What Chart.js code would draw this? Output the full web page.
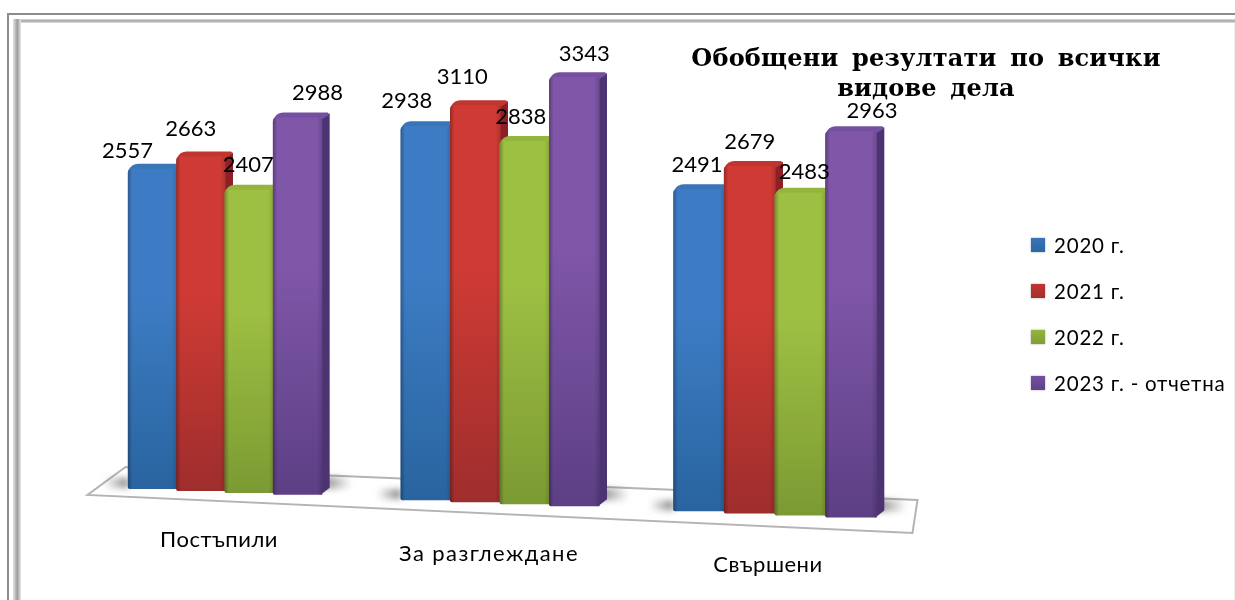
<!DOCTYPE html>
<html lang="bg">
<head>
    <meta charset="UTF-8">
    <title>Обобщени резултати по всички видове дела</title>
    <style>
        html, body { margin: 0; padding: 0; background: #fff; overflow: hidden; }
        #wrap { position: relative; width: 1235px; height: 600px; }
        canvas { position: absolute; left: 0; top: 0; }
        .frame { position: absolute; }
        #outerTop { left: 7px; top: 13px; right: 0; height: 2px; background: #8c8c8c; }
        #outerLeft { left: 7px; top: 13px; bottom: 0; width: 2px; background: #8c8c8c; }
        #innerTop { left: 14px; top: 19px; right: 0; height: 4px; background: linear-gradient(#ddd, #a4a4a4 50%, #e4e4e4); }
        #innerLeft { left: 13px; top: 19px; bottom: 0; width: 8px; background: linear-gradient(90deg, #e4e4e4, #9c9c9c 55%, #e8e8e8); }
        #innerRight { right: 0; top: 23px; bottom: 0; width: 1px; background: #eee; }
        #title {
            position: absolute; left: 626px; top: 43px; width: 600px; text-align: center;
            font: bold 24px/30px "DejaVu Serif", serif; word-spacing: 5px; letter-spacing: 0.2px; color: #000; white-space: nowrap;
        }
        #legend { position: absolute; left: 1031px; top: 222px; font: 20.5px/46px Lato, sans-serif; letter-spacing: 0.8px; color: #000; white-space: nowrap; }
        #legend div { display: flex; align-items: center; height: 46px; }
        #legend i { display: block; width: 14px; height: 14px; margin-right: 9px; box-shadow: 0 0 2px rgba(0,0,0,.35); }
    </style>
</head>
<body>
<div id="wrap">
    <canvas id="chart" width="1235" height="600"></canvas>
    <div class="frame" id="outerTop"></div>
    <div class="frame" id="outerLeft"></div>
    <div class="frame" id="innerTop"></div>
    <div class="frame" id="innerLeft"></div>
    <div class="frame" id="innerRight"></div>
    <div id="title">Обобщени резултати по всички<br>видове дела</div>
    <div id="legend"></div>
</div>

<script src="https://cdn.jsdelivr.net/npm/chart.js"></script>
<script>
    // Data
    const categories = ['Постъпили', 'За разглеждане', 'Свършени'];
    const seriesNames = ['2020 г.', '2021 г.', '2022 г.', '2023 г. - отчетна'];
    const values2020 = [2557, 2938, 2491];
    const values2021 = [2663, 3110, 2679];
    const values2022 = [2407, 2838, 2483];
    const values2023 = [2988, 3343, 2963];

    // Bar face colours: top of front, bottom of front, side, top face
    const faces = [
        ['#3f80ca', '#2a67a4', '#24507f', '#3a75b8'],
        ['#d63d36', '#a32f2e', '#8c2026', '#c03530'],
        ['#a2c544', '#7f9f35', '#6b8a2c', '#93b53e'],
        ['#8359ad', '#5f4189', '#4c3473', '#7550a0']
    ];

    // Nudges of the value labels from the bar top centre, per series then category
    const labelDx = [[-25, -19, -2], [-10, -13, 0], [-1, -4, 4], [20, 10, 21]];
    const labelDy = [[-18, -25, -24], [-28, -28, -24], [-25, -24, -21], [-25, -23, -20]];
    // Category labels, relative to the axis centre and the plot bottom
    const catDx = [-6, -11, -7];
    const catDy = [52, 66, 77];
    const catSpacing = ['0.5px', '1.4px', '0.5px'];

    // The picture is a tilted 3D view, so elements are projected before painting
    const tilt = { from: 130, slope: 0.041, gain: 6e-5, spread: 8.5e-5, mid: 500, depth: 8, rise: 5 };

    function project(bar, cx) {
        const f = 1 + (cx - tilt.mid) * tilt.spread;
        const x = cx + (bar.x - cx) * f;
        const w = bar.width * f;
        const bottom = bar.base + (x - tilt.from) * tilt.slope;
        const h = (bar.base - bar.y) * (1 + (x - tilt.from) * tilt.gain);
        return { x, left: x - w / 2, right: x + w / 2, bottom, top: bottom - h };
    }

    function blob(ctx, x0, x1, y, h) {
        const g = ctx.createLinearGradient(x0, 0, x1, 0);
        g.addColorStop(0, 'rgba(80,80,80,0.7)');
        g.addColorStop(1, 'rgba(80,80,80,0)');
        ctx.fillStyle = g;
        ctx.filter = 'blur(3px)';
        ctx.fillRect(Math.min(x0, x1), y, Math.abs(x1 - x0), h);
        ctx.filter = 'none';
    }

    const view3d = {
        id: 'view3d',
        beforeDatasetsDraw(chart) {
            const ctx = chart.ctx;
            const area = chart.chartArea;
            const xs = chart.scales.x;
            const last = chart.data.datasets.length - 1;
            ctx.save();

            // floor
            ctx.strokeStyle = '#b4b4b4';
            ctx.lineWidth = 2;
            ctx.beginPath();
            ctx.moveTo(area.left + 38, area.bottom - 21);
            ctx.lineTo(area.left, area.bottom + 7);
            ctx.lineTo(area.right, area.bottom + 45);
            ctx.lineTo(area.right + 5, area.bottom + 12);
            ctx.closePath();
            ctx.stroke();

            // soft shadows beside every group
            categories.forEach((c, i) => {
                const cx = xs.getPixelForValue(i);
                const a = project(chart.getDatasetMeta(0).data[i], cx);
                const b = project(chart.getDatasetMeta(last).data[i], cx);
                blob(ctx, a.left, a.left - 24, a.bottom - 11, 10);
                blob(ctx, b.right, b.right + 30, b.bottom - 18, 12);
            });

            // bars, left to right so each one covers the side of its neighbour
            categories.forEach((c, i) => {
                const cx = xs.getPixelForValue(i);
                chart.data.datasets.forEach((ds, d) => {
                    const p = project(chart.getDatasetMeta(d).data[i], cx);
                    const col = faces[d];
                    const dep = tilt.depth, rise = tilt.rise;

                    ctx.fillStyle = col[2];
                    ctx.beginPath();
                    ctx.moveTo(p.right - 1, p.top);
                    ctx.lineTo(p.right + dep, p.top - rise + 1);
                    ctx.lineTo(p.right + dep, p.bottom - 7);
                    ctx.lineTo(p.right - 1, p.bottom);
                    ctx.closePath();
                    ctx.fill();

                    ctx.fillStyle = col[3];
                    ctx.beginPath();
                    ctx.moveTo(p.left, p.top + 2);
                    ctx.quadraticCurveTo(p.left + 3, p.top - rise, p.left + 10, p.top - rise);
                    ctx.lineTo(p.right + dep - 2, p.top - rise);
                    ctx.lineTo(p.right + dep, p.top - rise + 2);
                    ctx.lineTo(p.right, p.top + 2);
                    ctx.closePath();
                    ctx.fill();

                    const g = ctx.createLinearGradient(0, p.top, 0, p.bottom);
                    g.addColorStop(0, col[0]);
                    g.addColorStop(0.4, col[0]);
                    g.addColorStop(1, col[1]);
                    ctx.fillStyle = g;
                    ctx.beginPath();
                    ctx.roundRect(p.left - 0.5, p.top, p.right - p.left + 1, p.bottom - p.top, [4, 2, 0, 2]);
                    ctx.fill();

                    // darker towards the edges of the front face
                    const edge = ctx.createLinearGradient(p.left, 0, p.right, 0);
                    edge.addColorStop(0, 'rgba(0,0,0,0.28)');
                    edge.addColorStop(0.08, 'rgba(0,0,0,0.03)');
                    edge.addColorStop(0.9, 'rgba(0,0,0,0.03)');
                    edge.addColorStop(1, 'rgba(0,0,0,0.16)');
                    ctx.fillStyle = edge;
                    ctx.fill();
                });
            });

            // value labels
            ctx.font = '22px Lato, sans-serif';
            ctx.fillStyle = '#000';
            ctx.textAlign = 'center';
            ctx.textBaseline = 'middle';
            chart.data.datasets.forEach((ds, d) => {
                ds.data.forEach((v, i) => {
                    const p = project(chart.getDatasetMeta(d).data[i], xs.getPixelForValue(i));
                    ctx.fillText(String(v), p.x + labelDx[d][i], p.top + labelDy[d][i]);
                });
            });

            // category labels follow the tilted floor
            ctx.font = '22px Lato, sans-serif';
            categories.forEach((c, i) => {
                ctx.letterSpacing = catSpacing[i];
                ctx.fillText(c, xs.getPixelForValue(i) + catDx[i], area.bottom + catDy[i]);
            });
            ctx.letterSpacing = '0px';

            ctx.restore();
            return false;
        }
    };

    new Chart(document.getElementById('chart').getContext('2d'), {
        type: 'bar',
        data: {
            labels: categories,
            datasets: [
                { label: seriesNames[0], data: values2020, backgroundColor: faces[0][0] },
                { label: seriesNames[1], data: values2021, backgroundColor: faces[1][0] },
                { label: seriesNames[2], data: values2022, backgroundColor: faces[2][0] },
                { label: seriesNames[3], data: values2023, backgroundColor: faces[3][0] }
            ]
        },
        options: {
            responsive: false,
            animation: false,
            layout: { padding: { left: 87.5, right: 322.5, top: 13, bottom: 112 } },
            datasets: { bar: { barPercentage: 1, categoryPercentage: 0.72 } },
            plugins: { legend: { display: false }, title: { display: false }, tooltip: { enabled: false } },
            scales: {
                x: { display: false },
                y: { display: false, min: 0, max: 3800 }
            }
        },
        plugins: [view3d]
    });

    // Legend from the series names
    const legend = document.getElementById('legend');
    seriesNames.forEach((name, i) => {
        const row = document.createElement('div');
        const box = document.createElement('i');
        box.style.background = `linear-gradient(${faces[i][3]}, ${faces[i][1]})`;
        row.appendChild(box);
        row.appendChild(document.createTextNode(name));
        legend.appendChild(row);
    });
</script>
</body>
</html>
